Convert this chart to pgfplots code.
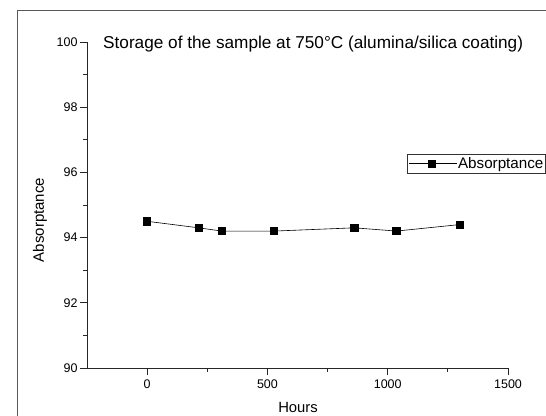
\documentclass[border=0pt]{standalone}
\usepackage{fontspec}
\setmainfont{Liberation Sans}
\usepackage{pgfplots}
\pgfplotsset{compat=1.18}
\newcommand{\tf}{\fontsize{12.5}{14}\selectfont}
\begin{document}
\begin{tikzpicture}
\useasboundingbox (-87pt,-47pt) rectangle (459pt,368pt);
\begin{scope}
\clip (-87pt,-47pt) rectangle (459pt,368pt);
\draw[black!65, line width=0.9pt] (-70pt,-70pt) rectangle (480pt,358pt);
\end{scope}
\begin{axis}[
  at={(0pt,0pt)}, anchor=south west,
  scale only axis, width=421pt, height=326pt,
  xmin=-250, xmax=1500, ymin=90, ymax=100,
  axis x line*=bottom, axis y line*=left,
  axis line style={-, line width=0.8pt, black!85},
  xtick={0,500,1000,1500}, ytick={90,92,94,96,98,100},
  xticklabels={\tf 0,\tf 500,\tf 1000,\tf 1500},
  yticklabels={\tf 90,\tf 92,\tf 94,\tf 96,\tf 98,\tf 100},
  minor x tick num=1, minor y tick num=1,
  tick align=outside, major tick length=7pt, minor tick length=4pt,
  tick style={line width=0.8pt, black!85},
  xticklabel style={yshift=-1pt},
  yticklabel style={xshift=1pt},
  legend style={at={(1.0896,0.656)}, anchor=north east, draw=black!80, line width=0.6pt,
    inner xsep=1pt, inner ysep=1pt, font=\fontsize{15.2}{17}\selectfont,
    nodes={inner xsep=1pt, inner ysep=2pt}},
  legend image code/.code={
    \path (0pt,0pt) -- (48pt,0pt);
    \draw[black, line width=0.6pt] (3pt,0pt) -- (47pt,0pt);
    \fill[black] (20pt,-3.5pt) rectangle (27pt,3.5pt);
  },
]
\addplot[black, line width=0.6pt, mark=square*, mark size=3.6pt, mark options={solid, fill=black}]
  coordinates {(0,94.5) (214,94.3) (311,94.2) (528,94.2) (861,94.3) (1036,94.2) (1300,94.4)};
\addlegendentry{Absorptance}
\end{axis}
\node[anchor=base west, inner sep=0pt, font=\fontsize{17.2}{20}\selectfont] at (16pt,319.7pt) {Storage of the sample at 750°C (alumina/silica coating)};
\node[rotate=90, inner sep=0pt, font=\fontsize{15}{17}\selectfont] at (-47pt,148pt) {Absorptance};
\node[anchor=base, inner sep=0pt, font=\fontsize{14.8}{17}\selectfont] at (211pt,-44pt) {Hours};
\end{tikzpicture}
\end{document}
